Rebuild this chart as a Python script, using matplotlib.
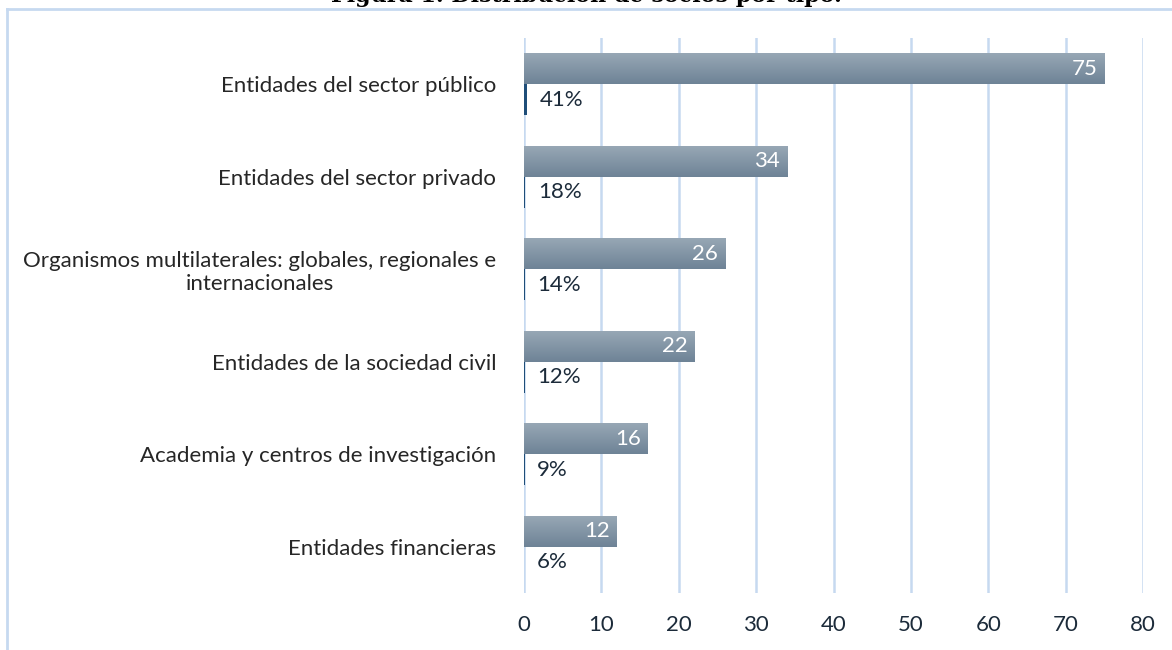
import matplotlib.pyplot as plt
import numpy as np
from matplotlib.lines import Line2D

# data
categories = ["Entidades del sector público", "Entidades del sector privado",
              "Organismos multilaterales: globales, regionales e\ninternacionales",
              "Entidades de la sociedad civil", "Academia y centros de investigación",
              "Entidades financieras"]
counts = [75, 34, 26, 22, 16, 12]
shares = [0.41, 0.18, 0.14, 0.12, 0.09, 0.06]
share_labels = ["41%", "18%", "14%", "12%", "9%", "6%"]
xticks = [0, 10, 20, 30, 40, 50, 60, 70, 80]

plt.rcParams['font.family'] = ['Lato', 'DejaVu Sans']
fs = 16

W, H = 1172, 650
fig = plt.figure(figsize=(W / 100, H / 100), dpi=100)
ax = fig.add_axes([524 / W, 1 - 593 / H, (1143 - 524) / W, (593 - 38) / H])

y = np.arange(len(categories))
h = 1 / 3
bars = ax.barh(y - h / 2, counts, height=h, color="#8395a7", zorder=2)
ax.barh(y + h / 2, shares, height=h, color="#1f4e79", zorder=2)

# vertical gradient on the count bars (light on top, darker below)
grad = np.linspace(0, 1, 64).reshape(-1, 1)
cmap = plt.matplotlib.colors.LinearSegmentedColormap.from_list("g", ["#6e8396", "#97a7b5"])
for b in bars:
    x0, y0 = b.get_x(), b.get_y()
    im = ax.imshow(grad, extent=[x0, x0 + b.get_width(), y0, y0 + b.get_height()],
                   aspect="auto", cmap=cmap, origin="upper", zorder=3)
    im.set_clip_path(b)

for i in range(len(categories)):
    ax.annotate(str(counts[i]), (counts[i], y[i] - h / 2), xytext=(-5, 0),
                textcoords="offset points", ha="right", va="center",
                color="white", fontsize=fs, zorder=4)
    ax.annotate(share_labels[i], (shares[i], y[i] + h / 2), xytext=(9, 0),
                textcoords="offset points", ha="left", va="center",
                color="#1c2b3a", fontsize=fs, zorder=4)

ax.set_xlim(0, 80)
ax.set_ylim(len(categories) - 0.5, -0.5)
ax.set_xticks(xticks)
ax.set_yticks(y)
ax.set_yticklabels(categories, fontsize=fs, color="#262626", multialignment="center")
ax.tick_params(axis="x", labelsize=fs, labelcolor="#1c2b3a", length=0, pad=16)
ax.tick_params(axis="y", length=0, pad=20)
ax.xaxis.grid(True, color="#c6d9f0", linewidth=1.8, zorder=0)
ax.set_axisbelow(True)
for s in ax.spines.values():
    s.set_visible(False)

# chart border (only top and left visible)
fig.add_artist(Line2D([7 / W, 7 / W], [0, 1 - 9 / H], color="#c6d9f0", lw=2))
fig.add_artist(Line2D([7 / W, 1], [1 - 9 / H, 1 - 9 / H], color="#c6d9f0", lw=2))

fig.text(0.5, 1 - 2 / H, "Figura 1. Distribución de socios por tipo.", ha="center",
         va="baseline", fontsize=16, fontweight="bold", family="DejaVu Serif")

fig.savefig("out.png", dpi=100)
